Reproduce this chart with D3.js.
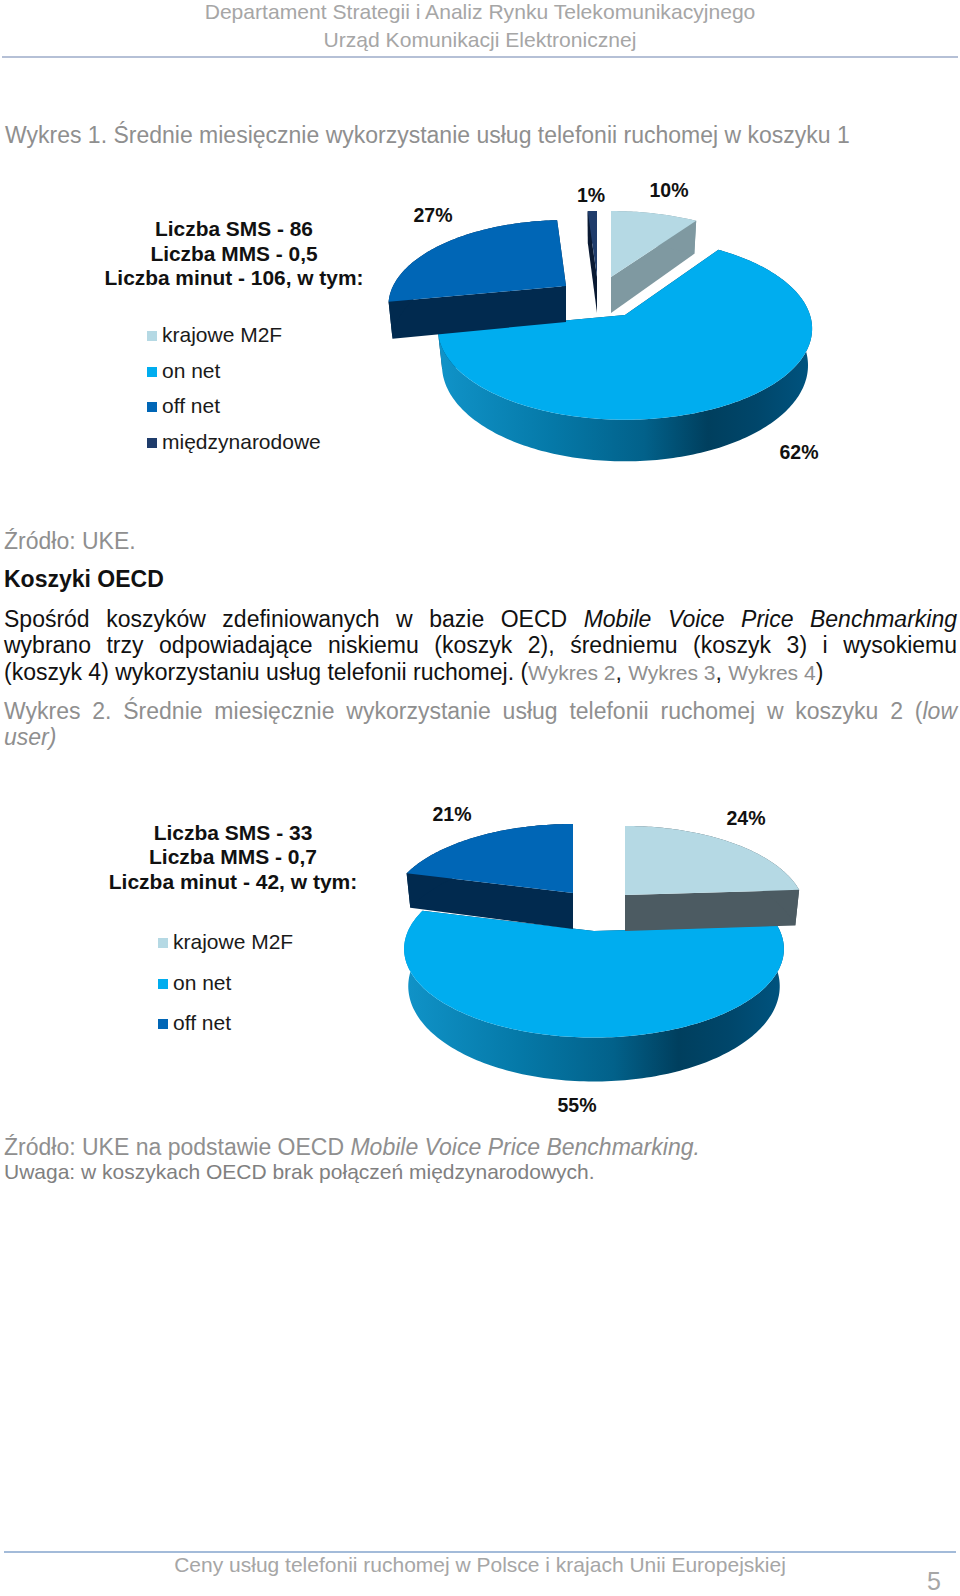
<!DOCTYPE html>
<html><head><meta charset="utf-8">
<style>html,body{margin:0;padding:0;background:#fff}svg{display:block}text{font-family:"Liberation Sans",Arial,sans-serif}</style>
<script src="https://cdn.jsdelivr.net/npm/d3@7"></script>
</head><body><svg id="c" width="960" height="1596"></svg>
<script>
// ---- data ----
const categories1 = ["krajowe M2F","on net","off net","międzynarodowe"];
const values1 = [9.6,62.4,27,1];
const categories2 = ["krajowe M2F","on net","off net"];
const values2 = [24,55,21];
const summary1 = ["Liczba SMS - 86","Liczba MMS - 0,5","Liczba minut - 106, w tym:"];
const summary2 = ["Liczba SMS - 33","Liczba MMS - 0,7","Liczba minut - 42, w tym:"];
// ---- styles / layout ----
const topColors = ["#b5d9e4","#00adef","#0066b6","#1f3c6b"];
const wallColors1 = ["#7f99a1","url(#g1)","#012a4f","#0a1a33"];
const wallColors2 = ["#4c5b62","url(#g2)","#012a4f"];
const pie1 = {k:[.228,.15,.228,.228],rx:[182,185,182,182],ry:[81,89,81,81],d:36,sx:.978,fy:1.054,
  apex:[[611,277],[625,315],[566,286],[597,277]], scale:[.98,1,.95,1],
  labels:[[669,197],[799,459],[433,222],[591,202]]};
const pie2 = {k:[.202,.202,.202],rx:[186,186,186],ry:[83,85,83],d:36,sx:.978,fy:1.075,
  apex:[[625,895],[594,931],[573,893]], scale:[.95,1,.97],
  labels:[[746,825],[577,1112],[452,821]]};
const svg = d3.select("#c");
const defs = svg.append("defs");
function grad(id,x1,x2){
  const g=defs.append("linearGradient").attr("id",id).attr("gradientUnits","userSpaceOnUse")
    .attr("x1",x1).attr("x2",x2).attr("y1",0).attr("y2",0);
  [[0,"#1093c8"],[.3,"#0579a8"],[.55,"#02618a"],[.72,"#003f5e"],[.85,"#00466a"],[1,"#005480"]]
    .forEach(s=>g.append("stop").attr("offset",s[0]).attr("stop-color",s[1]));
}
grad("g1",440,812); grad("g2",405,785);

const line = d3.line();
function drawPie(cfg,values,walls){
  const arcs = d3.pie().sort(null).startAngle(0).endAngle(2*Math.PI)(values);
  const project=(i,a,r,plane)=>{
    const u=r*Math.sin(a), v=-r*Math.cos(a), w=1-cfg.k[i]*v;
    const sx=cfg.scale[i]*(plane?cfg.sx:1), fy=plane?cfg.fy:1;
    return [cfg.apex[i][0]+cfg.rx[i]*sx*u/w, cfg.apex[i][1]+cfg.ry[i]*fy*v/w+(plane?cfg.d:0)];
  };
  const rim=(i,a0,a1,plane)=>{
    const n=Math.max(2,Math.ceil((a1-a0)/0.02));
    return d3.range(n+1).map(j=>project(i,a0+(a1-a0)*j/n,1,plane));
  };
  const order=arcs.map((d,i)=>i).sort((a,b)=>(a===1?-1:0)-(b===1?-1:0));
  const g=svg.append("g");
  order.forEach(i=>{
    const d=arcs[i], a0=d.startAngle, a1=d.endAngle;
    [a0,a1].forEach(a=>{
      g.append("path").attr("fill",i===1?"#003f5e":walls[i]).attr("d",line([
        project(i,a,0,0),project(i,a,1,0),project(i,a,1,1),project(i,a,0,1)])+"Z");
    });
    g.append("path").attr("fill",walls[i]).attr("d",line(rim(i,a0,a1,0).concat(rim(i,a0,a1,1).reverse()))+"Z");
    g.append("path").attr("fill",topColors[i]).attr("d",line([project(i,a0,0,0)].concat(rim(i,a0,a1,0)))+"Z");
  });
  svg.append("g").selectAll("text").data(values).join("text")
    .attr("x",(v,i)=>cfg.labels[i][0]).attr("y",(v,i)=>cfg.labels[i][1])
    .attr("text-anchor","middle").attr("font-weight","bold").attr("font-size",19.5).attr("fill","#111")
    .text(v=>Math.round(v)+"%");
}
drawPie(pie1,values1,wallColors1);
drawPie(pie2,values2,wallColors2);

function T(str,x,y,size,fill,o={}){
  return svg.append("text").attr("x",x).attr("y",y).attr("font-size",size).attr("fill",fill)
    .attr("font-weight",o.bold?"bold":null).attr("font-style",o.italic?"italic":null)
    .attr("text-anchor",o.anchor||"start").text(str);
}
function rich(parts,x,y,size,width){
  const t=svg.append("text").attr("x",x).attr("y",y).attr("font-size",size).attr("xml:space","preserve");
  parts.forEach(p=>t.append("tspan").attr("fill",p[1]).attr("font-style",p[2]||null)
    .attr("font-size",p[3]||null).text(p[0]));
  if(width){
    const len=t.node().getComputedTextLength();
    const spaces=parts.map(p=>p[0]).join("").split(" ").length-1;
    t.style("word-spacing",((width-len)/spaces)+"px");
  }
  return t;
}
const G2="#8f8f8f", K="#111";
T("Departament Strategii i Analiz Rynku Telekomunikacyjnego",480,18.5,21.1,"#a6a6a6",{anchor:"middle"});
T("Urząd Komunikacji Elektronicznej",480,46.5,21.1,"#a6a6a6",{anchor:"middle"});
svg.append("line").attr("x1",2).attr("x2",958).attr("y1",57).attr("y2",57).attr("stroke","#9dabc9").attr("stroke-width",1.5);
T("Wykres 1. Średnie miesięcznie wykorzystanie usług telefonii ruchomej w koszyku 1",5,143,23,G2);

summary1.forEach((s,i)=>T(s,234,[236,260.5,285][i],20.9,K,{bold:1,anchor:"middle"}));
categories1.forEach((c,i)=>{
  const y=[342,378,413,449][i];
  svg.append("rect").attr("x",147).attr("y",y-11).attr("width",10).attr("height",10).attr("fill",topColors[i]);
  T(c,162,y,21,"#1a1a1a");
});

T("Źródło: UKE.",4,549,23,G2);
T("Koszyki OECD",4,587,23,K,{bold:1});
rich([["Spośród koszyków zdefiniowanych w bazie OECD ",K],["Mobile Voice Price Benchmarking",K,"italic"]],4,627,23,953);
rich([["wybrano trzy odpowiadające niskiemu (koszyk 2), średniemu (koszyk 3) i wysokiemu",K]],4,653,23,953);
rich([["(koszyk 4) wykorzystaniu usług telefonii ruchomej. (",K],["Wykres 2",G2,null,21],[", ",K],["Wykres 3",G2,null,21],[", ",K],["Wykres 4",G2,null,21],[")",K]],4,680,23);
rich([["Wykres 2. Średnie miesięcznie wykorzystanie usług telefonii ruchomej w koszyku 2 (",G2],["low",G2,"italic"]],4,719,23,953);
T("user)",4,745,23,G2,{italic:1});

summary2.forEach((s,i)=>T(s,233,[840,864,889][i],21,K,{bold:1,anchor:"middle"}));
categories2.forEach((c,i)=>{
  const y=[949,990,1030][i];
  svg.append("rect").attr("x",158).attr("y",y-11).attr("width",10).attr("height",10).attr("fill",topColors[i]);
  T(c,173,y,21,"#1a1a1a");
});

rich([["Źródło: UKE na podstawie OECD ",G2],["Mobile Voice Price Benchmarking.",G2,"italic"]],4,1155,23);
T("Uwaga: w koszykach OECD brak połączeń międzynarodowych.",4,1179,21,"#808080");
svg.append("line").attr("x1",4).attr("x2",956).attr("y1",1552).attr("y2",1552).attr("stroke","#84a4cc").attr("stroke-width",1.5);
T("Ceny usług telefonii ruchomej w Polsce i krajach Unii Europejskiej",480,1572,21,"#a6a6a6",{anchor:"middle"});
T("5",927,1590,25,"#a6a6a6");
</script></body></html>
